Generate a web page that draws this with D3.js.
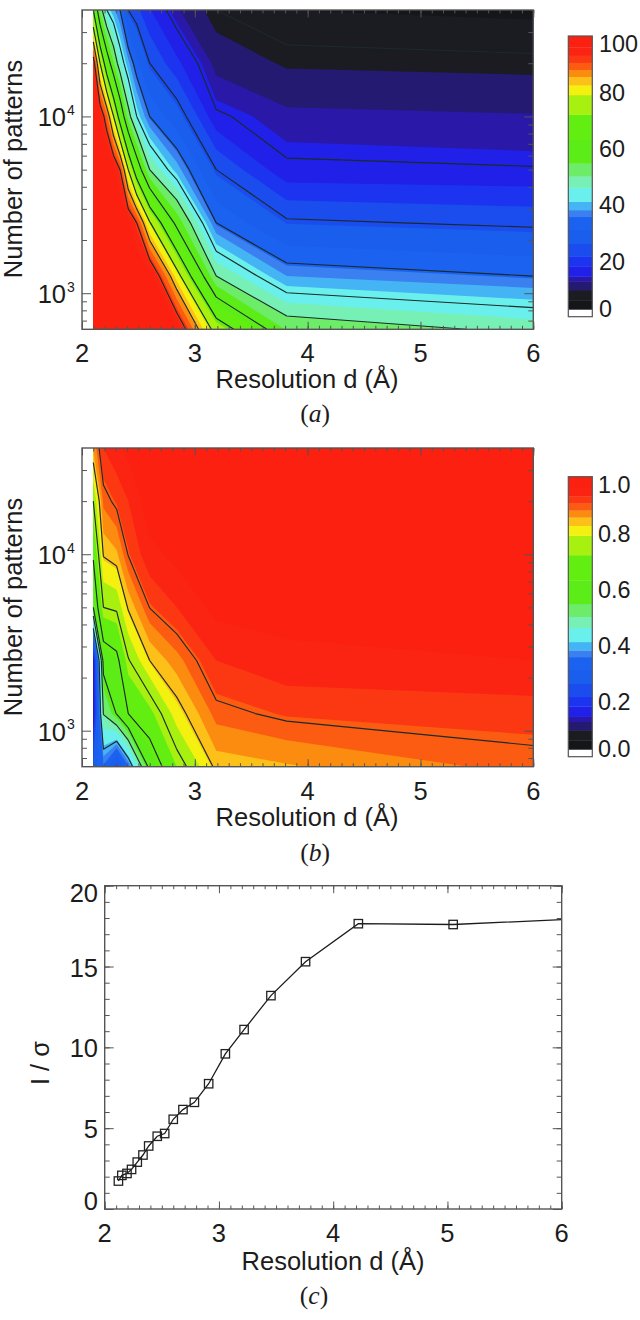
<!DOCTYPE html>
<html><head><meta charset="utf-8">
<script src="https://cdn.jsdelivr.net/npm/d3@7"></script>
<style>html,body{margin:0;padding:0;background:#fff}svg{display:block}text{font-family:"Liberation Sans",Arial,sans-serif;fill:#1c1c1c}</style>
</head><body><svg id="c" width="640" height="1320"></svg>
<script>
// ---------- data ----------
const patternCounts = [40000,20000,10000,5000,2500,1250,625];
const resolutionA = [2.10,2.16,2.22,2.28,2.337,2.41,2.485,2.60,2.84,3.19,3.815,6.0];
const completenessA = [
 [70,53.3,43,39,35,25,22.4,18.2,12.9,8,5.9,5.3],
 [95,78,65,55,46.5,39,32.3,25,18.8,11.6,9.1,8.6],
 [100,96,89,78,66.7,52.5,43,35,28,15.5,13.2,12.7],
 [100,100,100,97,92,78,65.4,50,39.6,25,15.5,15.15],
 [100,100,100,100,100,97,92,78.6,57.9,35,25.8,24.1],
 [100,100,100,100,100,100,100,98,81,50,38,35],
 [100,100,100,100,100,100,100,100,97,75.3,54,48.5]
];
const linesA = [8,15,25,35,43,50,60,70,78,85,92];
const resolutionB = [2.10,2.19,2.307,2.41,2.60,2.84,3.19,3.815,6.0];
const correlationB = [
 [86,93,95,97,100,100,100,100,100],
 [75,88.7,90.9,93,98,99,100,100,100],
 [66,83.4,85,90.2,95,97,99,99.5,100],
 [57,75,76,83.5,90.1,93,97,97.5,98],
 [14,59.4,62.7,74.5,83,87,93,95,96],
 [13.5,50.3,57.3,65,70.4,81.2,89,90.8,91.5],
 [28,35,24,35,59,72,84,85.2,89]
];
const linesB = [40,50,57,65,75,83,90];
const bandFloors = [2.6,5.9,9.5,12.5,14.3,18,21.4,26,31,35.6,38,41,46,50,54.6,63,72,79,82.5,85.5,88,90.5,93,96];
const bandColors = ["#15161a","#1b1b22","#241a72","#2a18a8","#2020e8","#1c34f0","#1a4cee","#1a5eee","#1c62f0","#3a80f0","#44b4f4","#6af0ec","#76f0b4","#6cec68","#5cec18","#62ee10","#a8f010","#f4f010","#fcc018","#fc8c10","#fc5c12","#fb3812","#fb2412","#fb2010"];
const barTopValue = 100;
const xTicksMajor = [2,3,4,5,6];
const xTicksMinor = d3.range(20,61).map(v=>v/10);
const yTicksMajorLog = [1000,10000];
const yTicksMinorLog = [700,800,900,2000,3000,4000,5000,6000,7000,8000,9000,20000,30000];
const barTicksA = [0,20,40,60,80,100];
const barLabelsB = ["0.0","0.2","0.4","0.6","0.8","1.0"];
const sigmaD = [2.12,2.15,2.195,2.235,2.285,2.335,2.385,2.46,2.525,2.60,2.685,2.785,2.91,3.056,3.22,3.455,3.758,4.22,5.05,6.0];
const sigmaI = [1.73,2.08,2.2,2.45,2.9,3.34,3.9,4.5,4.67,5.55,6.15,6.6,7.75,9.6,11.1,13.2,15.3,17.65,17.6,17.9];
const sigmaTicksMajor = [0,5,10,15,20];
const sigmaTicksMinor = d3.range(0,21);

// ---------- drawing ----------
const svg = d3.select("#c");
const frameCol = "#555", lineCol = "#1b2a2a";
const fs = 25.5;

function txt(x,y,s,o={}){
  const t = svg.append("text").attr("x",x).attr("y",y).attr("font-size",o.size||fs)
    .attr("text-anchor",o.anchor||"middle").text(s);
  if(o.rotate) t.attr("transform",`rotate(-90 ${x} ${y})`);
  return t;
}
function caption(x,y,letter){
  const t = svg.append("text").attr("x",x).attr("y",y).attr("font-size",fs).attr("text-anchor","middle")
    .style("font-family","'Liberation Serif',serif");
  t.append("tspan").text("(");
  t.append("tspan").style("font-style","italic").text(letter);
  t.append("tspan").text(")");
}
function ticks(g,x,y,box,xMajor,xMinor,yMajor,yMinor,yMajLen,yMinLen){
  const add=(gen,tx,ty)=>{
    const a=g.append("g").attr("transform",`translate(${tx},${ty})`).call(gen);
    a.select(".domain").remove();
    a.selectAll("text").remove();
    a.selectAll("line").attr("stroke",frameCol).attr("stroke-width",1);
  };
  add(d3.axisBottom(x).tickValues(xMinor).tickSize(-3.5),0,box.b);
  add(d3.axisBottom(x).tickValues(xMajor).tickSize(-7.5),0,box.b);
  add(d3.axisTop(x).tickValues(xMinor).tickSize(-3.5),0,box.t);
  add(d3.axisTop(x).tickValues(xMajor).tickSize(-7.5),0,box.t);
  add(d3.axisLeft(y).tickValues(yMinor).tickSize(-yMinLen),box.l,0);
  add(d3.axisLeft(y).tickValues(yMajor).tickSize(-yMajLen),box.l,0);
  add(d3.axisRight(y).tickValues(yMinor).tickSize(-yMinLen),box.r,0);
  add(d3.axisRight(y).tickValues(yMajor).tickSize(-yMajLen),box.r,0);
  g.append("rect").attr("x",box.l).attr("y",box.t).attr("width",box.r-box.l).attr("height",box.b-box.t)
    .attr("fill","none").attr("stroke",frameCol).attr("stroke-width",1.4);
}
let clipId=0;
function contourPanel(box,cols,matrix,levels){
  const x=d3.scaleLinear().domain([2,6]).range([box.l,box.r]);
  const y=d3.scaleLog().domain([625,40000]).range([box.b,box.t]);
  const n=cols.length,m=patternCounts.length;
  const ix=d3.scaleLinear().domain(d3.range(n)).range(cols).clamp(true);
  const iy=d3.scaleLinear().domain(d3.range(m)).range(patternCounts.map(Math.log10)).clamp(true);
  const px=c=>x(ix(c-0.5)), py=c=>y(Math.pow(10,iy(c-0.5)));
  const values=matrix.flat();
  const gen=d3.contours().size([n,m]).smooth(true);
  const id="clip"+(clipId++);
  svg.append("clipPath").attr("id",id).append("rect").attr("x",box.l).attr("y",box.t)
    .attr("width",box.r-box.l).attr("height",box.b-box.t);
  const g=svg.append("g");
  const pg=g.append("g").attr("clip-path",`url(#${id})`);
  bandFloors.forEach((t,i)=>{
    const c=gen.contour(values,t);
    let d="";
    c.coordinates.forEach(poly=>poly.forEach(ring=>{
      d+="M"+ring.map(p=>px(p[0]).toFixed(2)+","+py(p[1]).toFixed(2)).join("L")+"Z";
    }));
    if(d) pg.append("path").attr("d",d).attr("fill",bandColors[i]).attr("fill-rule","evenodd");
  });
  levels.forEach(t=>{
    const c=gen.contour(values,t);
    let d="";
    c.coordinates.forEach(poly=>poly.forEach(ring=>{
      for(let i=0;i<ring.length-1;i++){
        const a=ring[i],b=ring[i+1];
        const ax=a[0]-0.5,ay=a[1]-0.5,bx=b[0]-0.5,by=b[1]-0.5;
        const onEdge=(ax<=0&&bx<=0)||(ax>=n-1&&bx>=n-1)||(ay<=0&&by<=0)||(ay>=m-1&&by>=m-1);
        if(!onEdge) d+=`M${px(a[0]).toFixed(2)},${py(a[1]).toFixed(2)}L${px(b[0]).toFixed(2)},${py(b[1]).toFixed(2)}`;
      }
    }));
    pg.append("path").attr("d",d).attr("fill","none").attr("stroke",lineCol).attr("stroke-width",1.15);
  });
  ticks(g,x,y,box,xTicksMajor,xTicksMinor,yTicksMajorLog,yTicksMinorLog,9,5);
  xTicksMajor.forEach(v=>txt(x(v),box.b+33,v));
  yTicksMajorLog.forEach(v=>{
    txt(66,y(v)+10,"10",{anchor:"end"});
    txt(67,y(v)-1.5,Math.log10(v),{anchor:"start",size:14});
  });
}
function colorBar(box,labels,labelX){
  const v=d3.scaleLinear().domain([0,barTopValue]).range([box.b,box.t]);
  const g=svg.append("g");
  g.append("rect").attr("x",box.l).attr("y",box.t).attr("width",box.r-box.l).attr("height",box.b-box.t).attr("fill","#fff");
  bandFloors.forEach((f,i)=>{
    const top=i<bandFloors.length-1?bandFloors[i+1]:barTopValue;
    g.append("rect").attr("x",box.l).attr("width",box.r-box.l).attr("y",v(top)).attr("height",v(f)-v(top)+0.3).attr("fill",bandColors[i]);
  });
  g.append("rect").attr("x",box.l).attr("y",box.t).attr("width",box.r-box.l).attr("height",box.b-box.t)
    .attr("fill","none").attr("stroke",frameCol).attr("stroke-width",1.2);
  barTicksA.forEach((t,i)=>{
    const off=t===0?-9:(t===100?7:0);
    txt(labelX,v(t)+off+9,labels[i],{anchor:"start",size:23.4});
  });
}

// panel a
const boxA={l:82,r:533.3,t:10,b:329.3};
contourPanel(boxA,resolutionA,completenessA,linesA);
txt(307,388,"Resolution d (Å)");
txt(22,169,"Number of patterns",{rotate:true});
caption(315,422,"a");
colorBar({l:568.3,r:592.3,t:36,b:316.7},barTicksA,599);

// panel b
const boxB={l:82,r:533.3,t:448,b:766.7};
contourPanel(boxB,resolutionB,correlationB,linesB);
txt(307,826,"Resolution d (Å)");
txt(22,607,"Number of patterns",{rotate:true});
caption(315,861,"b");
colorBar({l:568.3,r:592.3,t:476.7,b:756.7},barLabelsB,598);

// panel c
const boxC={l:104.7,r:561.7,t:885.7,b:1209};
const xC=d3.scaleLinear().domain([2,6]).range([boxC.l,boxC.r]);
const yC=d3.scaleLinear().domain([0,20]).range([boxC.b,boxC.t]);
const gC=svg.append("g");
gC.append("path").datum(sigmaD.map((d,i)=>[d,sigmaI[i]]))
  .attr("d",d3.line().x(p=>xC(p[0])).y(p=>yC(p[1]))).attr("fill","none").attr("stroke","#1c1c1c").attr("stroke-width",1.3);
gC.selectAll("rect.m").data(sigmaD.slice(0,-1)).join("rect").attr("class","m")
  .attr("x",d=>xC(d)-4.2).attr("y",(d,i)=>yC(sigmaI[i])-4.2).attr("width",8.4).attr("height",8.4)
  .attr("fill","none").attr("stroke","#222").attr("stroke-width",1.3);
ticks(gC,xC,yC,boxC,xTicksMajor,xTicksMinor,sigmaTicksMajor,sigmaTicksMinor,9,5);
xTicksMajor.forEach(v=>txt(xC(v),1242,v));
sigmaTicksMajor.forEach(v=>{
  const off=v===0?-8:(v===20?7:1);
  txt(98,yC(v)+off+9,v,{anchor:"end"});
});
txt(333,1270,"Resolution d (Å)");
txt(49,1063,"I / σ",{rotate:true});
caption(314,1304,"c");
</script></body></html>
